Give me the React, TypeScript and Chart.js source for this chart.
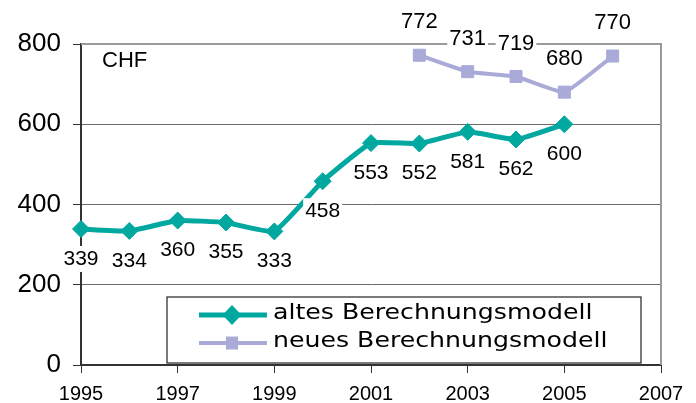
import React, { useEffect, useRef } from 'react';
import { Chart, registerables } from 'chart.js';

Chart.register(...registerables);

const altesYears = [1995, 1996, 1997, 1998, 1999, 2000, 2001, 2002, 2003, 2004, 2005];
const altesValues = [339, 334, 360, 355, 333, 458, 553, 552, 581, 562, 600];
const neuesYears = [2002, 2003, 2004, 2005, 2006];
const neuesValues = [772, 731, 719, 680, 770];
const xTickValues = [1995, 1997, 1999, 2001, 2003, 2005, 2007];
const yTickValues = [0, 200, 400, 600, 800];
const seriesNames = ['altes Berechnungsmodell', 'neues Berechnungsmodell'];
const unitLabel = 'CHF';

const TEAL = '#00A8A0';
const LAVENDER = '#AAAAD8';

const framePlugin = {
  id: 'frame',
  beforeDatasetsDraw(chart: any) {
    const { ctx, chartArea: a } = chart;
    ctx.save();
    ctx.strokeStyle = '#9a9a9a';
    ctx.lineWidth = 2;
    ctx.beginPath();
    ctx.moveTo(a.left, a.top);
    ctx.lineTo(a.right, a.top);
    ctx.lineTo(a.right, a.bottom);
    ctx.stroke();
    ctx.restore();
    ctx.save();
    ctx.font = '22px "Liberation Sans", Arial, sans-serif';
    ctx.fillStyle = '#000';
    ctx.textBaseline = 'middle';
    ctx.textAlign = 'left';
    ctx.fillText(unitLabel, a.left + 21, a.top + 17);
    ctx.restore();
  },
};

const valueLabelPlugin = {
  id: 'valueLabels',
  afterDatasetsDraw(chart: any) {
    const { ctx } = chart;
    chart.data.datasets.forEach((ds: any, di: number) => {
      const meta = chart.getDatasetMeta(di);
      const font = di === 0 ? '21px "Liberation Sans", Arial, sans-serif' : '22px "Liberation Sans", Arial, sans-serif';
      const dy = di === 0 ? 30 : -33;
      meta.data.forEach((pt: any, i: number) => {
        const v = ds.data[i].y;
        const text = String(v);
        ctx.save();
        ctx.font = font;
        const w = ctx.measureText(text).width;
        const cx = pt.x;
        const cy = pt.y + dy;
        ctx.fillStyle = '#fff';
        ctx.fillRect(cx - w / 2 - 2, cy - 13, w + 4, 26);
        ctx.fillStyle = '#000';
        ctx.textAlign = 'center';
        ctx.textBaseline = 'middle';
        ctx.fillText(text, cx, cy);
        ctx.restore();
      });
    });
  },
};

const legendPlugin = {
  id: 'customLegend',
  afterDraw(chart: any) {
    const { ctx, chartArea: a } = chart;
    const left = a.left + 86;
    const right = a.right - 20;
    const top = a.bottom - 68;
    const bottom = a.bottom - 2;
    ctx.save();
    ctx.fillStyle = '#fff';
    ctx.fillRect(left, top, right - left, bottom - top);
    ctx.strokeStyle = '#222';
    ctx.lineWidth = 1.2;
    ctx.strokeRect(left, top, right - left, bottom - top);

    const rows = [
      { y: top + 18, color: TEAL, lw: 5, shape: 'diamond' },
      { y: top + 46, color: LAVENDER, lw: 4, shape: 'square' },
    ];
    rows.forEach((r, i) => {
      const x0 = left + 32;
      const x1 = left + 100;
      const mx = left + 65;
      ctx.strokeStyle = r.color;
      ctx.lineWidth = r.lw;
      ctx.beginPath();
      ctx.moveTo(x0, r.y);
      ctx.lineTo(x1, r.y);
      ctx.stroke();
      ctx.fillStyle = r.color;
      ctx.beginPath();
      if (r.shape === 'diamond') {
        ctx.moveTo(mx - 9.5, r.y);
        ctx.lineTo(mx, r.y - 10);
        ctx.lineTo(mx + 9.5, r.y);
        ctx.lineTo(mx, r.y + 10);
        ctx.closePath();
      } else {
        ctx.rect(mx - 6, r.y - 6.5, 12, 13);
      }
      ctx.fill();

      ctx.save();
      ctx.font = '21px "DejaVu Sans", sans-serif';
      ctx.fillStyle = '#000';
      ctx.textBaseline = 'alphabetic';
      ctx.textAlign = 'left';
      ctx.translate(left + 106, r.y + 4);
      ctx.scale(1.2, 1);
      ctx.fillText(seriesNames[i], 0, 0);
      ctx.restore();
    });
    ctx.restore();
  },
};

export default function App() {
  const canvasRef = useRef<HTMLCanvasElement | null>(null);

  useEffect(() => {
    document.body.style.margin = '0';
    const canvas = canvasRef.current;
    if (!canvas) return;
    const chart = new Chart(canvas, {
      type: 'line',
      data: {
        datasets: [
          {
            label: seriesNames[0],
            data: altesYears.map((x, i) => ({ x, y: altesValues[i] })),
            borderColor: TEAL,
            backgroundColor: TEAL,
            borderWidth: 5,
            pointStyle: 'rectRot',
            pointRadius: 8.5,
            pointBorderWidth: 1,
            pointBackgroundColor: TEAL,
            pointBorderColor: TEAL,
            tension: 0.12,
            clip: false as any,
          },
          {
            label: seriesNames[1],
            data: neuesYears.map((x, i) => ({ x, y: neuesValues[i] })),
            borderColor: LAVENDER,
            backgroundColor: LAVENDER,
            borderWidth: 4,
            pointStyle: 'rect',
            pointRadius: 8.5,
            pointBorderWidth: 1,
            pointBackgroundColor: LAVENDER,
            pointBorderColor: LAVENDER,
            tension: 0.12,
            clip: false as any,
          },
        ],
      },
      options: {
        responsive: false,
        animation: false,
        layout: { padding: { left: 0, right: 35, top: 44, bottom: 0 } },
        plugins: {
          legend: { display: false },
          tooltip: { enabled: false },
        },
        scales: {
          x: {
            type: 'linear',
            min: 1995,
            max: 2007,
            afterBuildTicks: (scale: any) => {
              scale.ticks = xTickValues.map((v) => ({ value: v }));
            },
            afterFit: (scale: any) => {
              scale.height = 38;
            },
            ticks: {
              callback: (v: any) => String(v),
              font: { family: '"Liberation Sans", Arial, sans-serif', size: 20 },
              color: '#000',
              padding: 9,
              maxRotation: 0,
              autoSkip: false,
            },
            grid: {
              drawOnChartArea: false,
              drawTicks: true,
              tickLength: 8,
              tickColor: '#333',
              tickWidth: 1,
            },
            border: { display: true, color: '#333', width: 2 },
          },
          y: {
            min: 0,
            max: 800,
            afterBuildTicks: (scale: any) => {
              scale.ticks = yTickValues.map((v) => ({ value: v }));
            },
            afterFit: (scale: any) => {
              scale.width = 81;
            },
            ticks: {
              font: { family: '"Liberation Sans", Arial, sans-serif', size: 26 },
              color: '#000',
              padding: 12,
            },
            grid: {
              color: '#6a6a6a',
              lineWidth: 1,
              drawTicks: true,
              tickLength: 8,
              tickColor: '#333',
            },
            border: { display: true, color: '#333', width: 2 },
          },
        },
      },
      plugins: [framePlugin, valueLabelPlugin, legendPlugin],
    });
    return () => chart.destroy();
  }, []);

  return (
    <div style={{ width: 696, height: 403, background: '#fff' }}>
      <canvas ref={canvasRef} width={696} height={403} style={{ display: 'block' }} />
    </div>
  );
}
